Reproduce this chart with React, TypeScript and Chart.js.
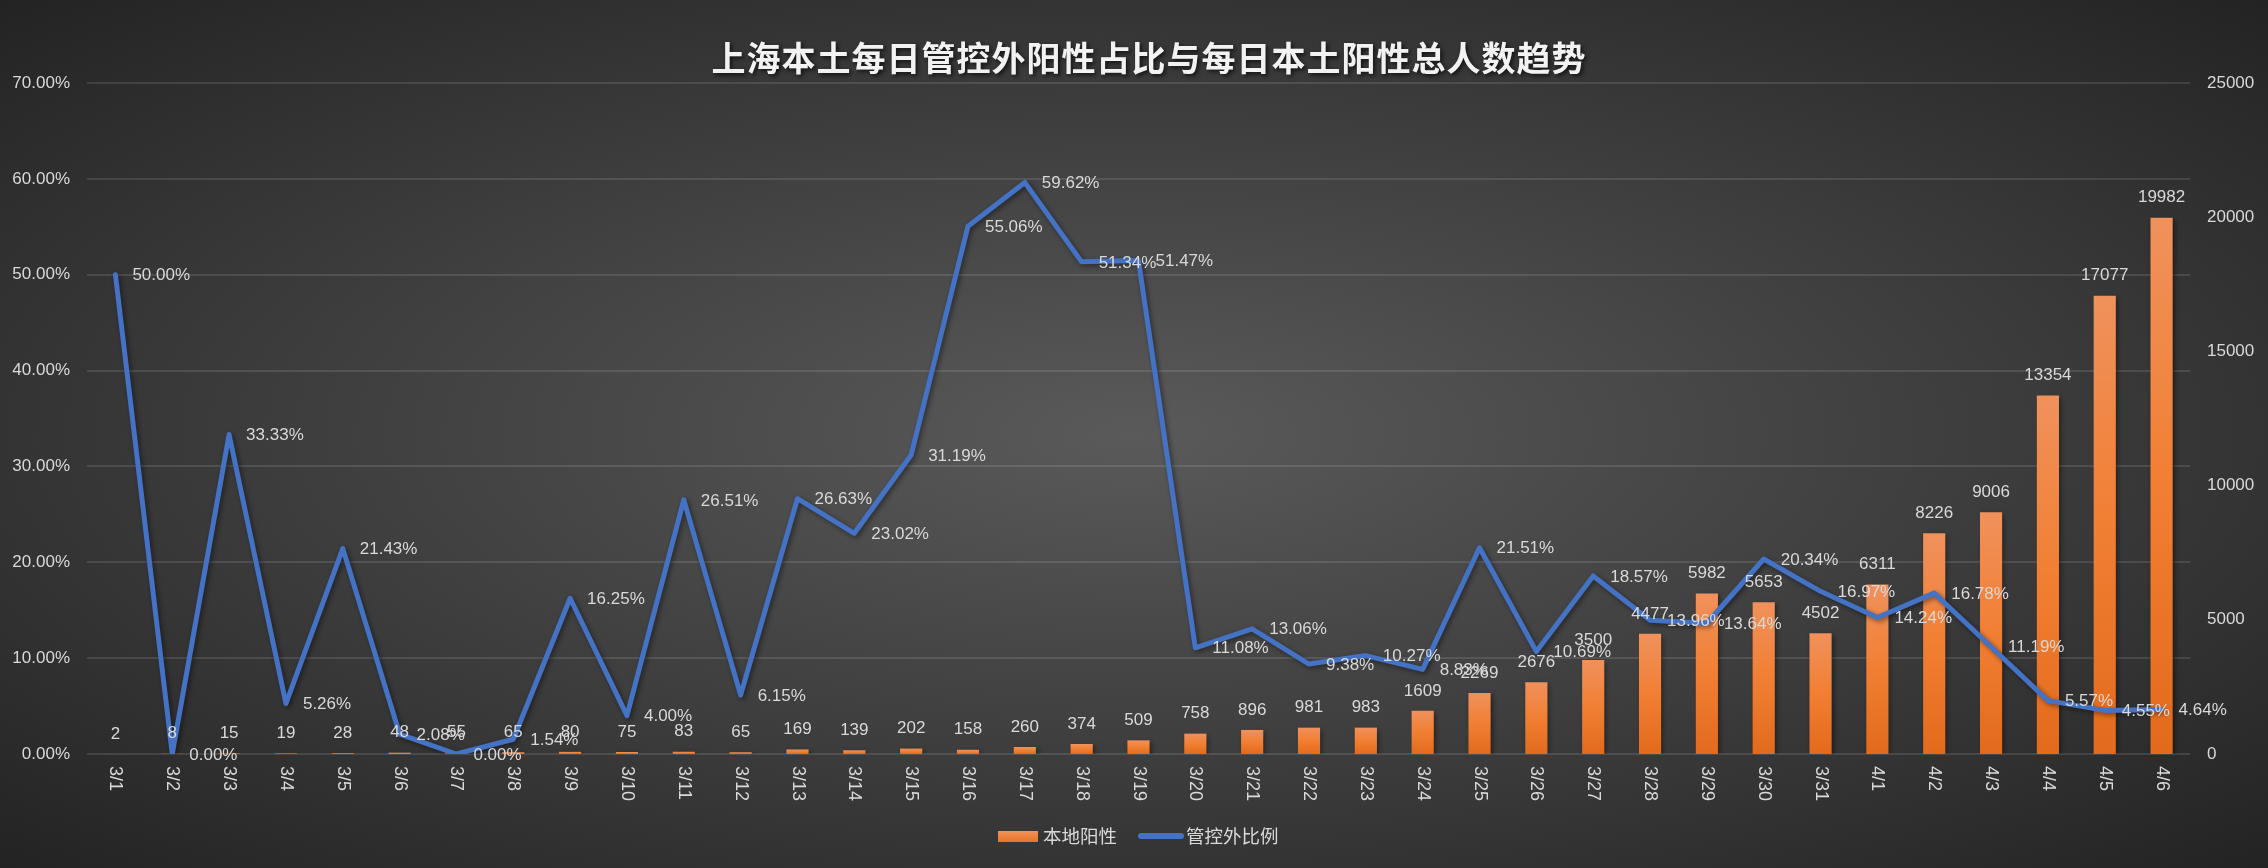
import React, { useEffect, useRef } from "react";
import { Chart, registerables } from "chart.js";

Chart.register(...registerables);

const WIDTH = 2268;
const HEIGHT = 868;

const TITLE = "上海本土每日管控外阳性占比与每日本土阳性总人数趋势";
const BAR_LABEL = "本地阳性";
const LINE_LABEL = "管控外比例";

const DATES = [
  "3/1", "3/2", "3/3", "3/4", "3/5", "3/6", "3/7", "3/8", "3/9", "3/10",
  "3/11", "3/12", "3/13", "3/14", "3/15", "3/16", "3/17", "3/18", "3/19", "3/20",
  "3/21", "3/22", "3/23", "3/24", "3/25", "3/26", "3/27", "3/28", "3/29", "3/30",
  "3/31", "4/1", "4/2", "4/3", "4/4", "4/5", "4/6",
];

// daily local positives (confirmed + asymptomatic)
const LOCAL_POSITIVE = [
  2, 8, 15, 19, 28, 48, 55, 65, 80, 75,
  83, 65, 169, 139, 202, 158, 260, 374, 509, 758,
  896, 981, 983, 1609, 2269, 2676, 3500, 4477, 5982, 5653,
  4502, 6311, 8226, 9006, 13354, 17077, 19982,
];

// share of positives found outside controlled areas, in percent
const OUTSIDE_RATIO = [
  50.0, 0.0, 33.33, 5.26, 21.43, 2.08, 0.0, 1.54, 16.25, 4.0,
  26.51, 6.15, 26.63, 23.02, 31.19, 55.06, 59.62, 51.34, 51.47, 11.08,
  13.06, 9.38, 10.27, 8.83, 21.51, 10.69, 18.57, 13.96, 13.64, 20.34,
  16.97, 14.24, 16.78, 11.19, 5.57, 4.55, 4.64,
];

const RATIO_TICKS = { min: 0, max: 70, step: 10 };
const COUNT_TICKS = { min: 0, max: 25000, step: 5000 };

const TEXT = "#d9d9d9";
const LATIN = '"Liberation Sans", Arial, sans-serif';
const CJK = '"Noto Sans CJK SC", "Noto Sans", sans-serif';
const LINE_COLOR = "#4472c4";

const pct = (v: number) => v.toFixed(2) + "%";

const decorPlugin = {
  id: "decor",
  beforeDatasetDraw(chart: any) {
    const ctx = chart.ctx;
    ctx.save();
    ctx.shadowColor = "rgba(0,0,0,0.45)";
    ctx.shadowBlur = 5;
    ctx.shadowOffsetX = 2;
    ctx.shadowOffsetY = 2;
  },
  afterDatasetDraw(chart: any) {
    chart.ctx.restore();
  },
  afterDraw(chart: any) {
    const ctx = chart.ctx;
    const x = chart.scales.x;
    const yL = chart.scales.y;
    const yR = chart.scales.y1;
    const area = chart.chartArea;

    // bar value labels
    ctx.save();
    ctx.font = `17px ${LATIN}`;
    ctx.fillStyle = TEXT;
    ctx.textAlign = "center";
    ctx.textBaseline = "middle";
    LOCAL_POSITIVE.forEach((v, i) => {
      const px = x.getPixelForValue(i);
      const py = yR.getPixelForValue(v);
      ctx.fillText(String(v), px, py - 20);
    });

    // ratio labels, to the right of each point
    ctx.textAlign = "left";
    OUTSIDE_RATIO.forEach((v, i) => {
      const px = x.getPixelForValue(i);
      const py = yL.getPixelForValue(v);
      ctx.fillText(pct(v), px + 17, py + 1);
    });

    // category labels, turned clockwise
    ctx.font = `18px ${LATIN}`;
    DATES.forEach((d, i) => {
      const px = x.getPixelForValue(i);
      ctx.save();
      ctx.translate(px, area.bottom + 12);
      ctx.rotate(Math.PI / 2);
      ctx.textAlign = "left";
      ctx.textBaseline = "middle";
      ctx.fillText(d, 0, 0);
      ctx.restore();
    });

    // title
    ctx.save();
    ctx.font = `bold 34px ${CJK}`;
    (ctx as any).letterSpacing = "1px";
    ctx.fillStyle = "#f2f2f2";
    ctx.textAlign = "center";
    ctx.textBaseline = "middle";
    ctx.shadowColor = "rgba(0,0,0,0.7)";
    ctx.shadowBlur = 4;
    ctx.shadowOffsetX = 2;
    ctx.shadowOffsetY = 2;
    ctx.fillText(TITLE, 1149, 58);
    ctx.restore();

    // legend
    const ly = 837;
    const g = ctx.createLinearGradient(0, ly - 6, 0, ly + 6);
    g.addColorStop(0, "#f0925e");
    g.addColorStop(1, "#e8701f");
    ctx.fillStyle = g;
    ctx.fillRect(998, ly - 6, 40, 11);
    ctx.font = `18.5px ${CJK}`;
    ctx.fillStyle = TEXT;
    ctx.textAlign = "left";
    ctx.textBaseline = "middle";
    ctx.fillText(BAR_LABEL, 1043, ly - 1);
    ctx.strokeStyle = LINE_COLOR;
    ctx.lineWidth = 6;
    ctx.lineCap = "round";
    ctx.beginPath();
    ctx.moveTo(1141, ly - 1);
    ctx.lineTo(1181, ly - 1);
    ctx.stroke();
    ctx.fillText(LINE_LABEL, 1186, ly - 1);
    ctx.restore();
  },
};

export default function App() {
  const ref = useRef<HTMLCanvasElement | null>(null);

  useEffect(() => {
    const canvas = ref.current;
    if (!canvas) return;

    const barFill = (c: any) => {
      const chart = c.chart;
      const yScale = chart.scales && chart.scales.y1;
      if (!chart.chartArea || !yScale || c.type !== "data") return "#ef7f35";
      const top = yScale.getPixelForValue(c.raw);
      const bottom = yScale.getPixelForValue(0);
      if (!isFinite(top) || bottom - top < 1) return "#ef7f35";
      const g = chart.ctx.createLinearGradient(0, top, 0, bottom);
      g.addColorStop(0, "#f0915c");
      g.addColorStop(0.5, "#f17f33");
      g.addColorStop(1, "#e26a1c");
      return g;
    };

    const tickFont = { family: LATIN, size: 17 };

    const chart = new Chart(canvas, {
      data: {
        labels: DATES,
        datasets: [
          {
            type: "line",
            label: LINE_LABEL,
            data: OUTSIDE_RATIO,
            yAxisID: "y",
            borderColor: LINE_COLOR,
            backgroundColor: LINE_COLOR,
            borderWidth: 5,
            pointRadius: 0,
            tension: 0,
            borderJoinStyle: "round",
            borderCapStyle: "round",
            order: 0,
          },
          {
            type: "bar",
            label: BAR_LABEL,
            data: LOCAL_POSITIVE,
            yAxisID: "y1",
            backgroundColor: barFill,
            barPercentage: 0.39,
            categoryPercentage: 1,
            order: 1,
          },
        ],
      } as any,
      options: {
        responsive: false,
        animation: false,
        devicePixelRatio: 1,
        layout: { padding: { top: 83, left: 0, right: 0, bottom: 0 } },
        plugins: {
          legend: { display: false },
          title: { display: false },
          tooltip: { enabled: false },
        },
        scales: {
          x: {
            grid: { display: false },
            border: { display: false },
            ticks: { display: false },
            afterFit: (s: any) => {
              s.height = HEIGHT - 754;
            },
          },
          y: {
            position: "left",
            min: RATIO_TICKS.min,
            max: RATIO_TICKS.max,
            ticks: {
              stepSize: RATIO_TICKS.step,
              callback: (v: any) => pct(Number(v)),
              color: TEXT,
              font: tickFont,
              padding: 17,
            },
            grid: { color: "rgba(255,255,255,0.11)", lineWidth: 2, drawTicks: false },
            border: { display: false },
            afterFit: (s: any) => {
              s.width = 87;
            },
          },
          y1: {
            position: "right",
            min: COUNT_TICKS.min,
            max: COUNT_TICKS.max,
            ticks: {
              stepSize: COUNT_TICKS.step,
              callback: (v: any) => String(v),
              color: TEXT,
              font: tickFont,
              padding: 17,
            },
            grid: { display: false, drawTicks: false },
            border: { display: false },
            afterFit: (s: any) => {
              s.width = 78;
            },
          },
        },
      } as any,
      plugins: [decorPlugin],
    });

    return () => chart.destroy();
  }, []);

  return (
    <div
      style={{
        position: "fixed",
        left: 0,
        top: 0,
        width: WIDTH,
        height: HEIGHT,
        background:
          "radial-gradient(ellipse farthest-corner at 50% 50%, #5a5a5a 0%, #3c3c3c 55%, #232323 100%)",
      }}
    >
      <canvas ref={ref} width={WIDTH} height={HEIGHT} style={{ width: WIDTH, height: HEIGHT, display: "block" }} />
    </div>
  );
}
